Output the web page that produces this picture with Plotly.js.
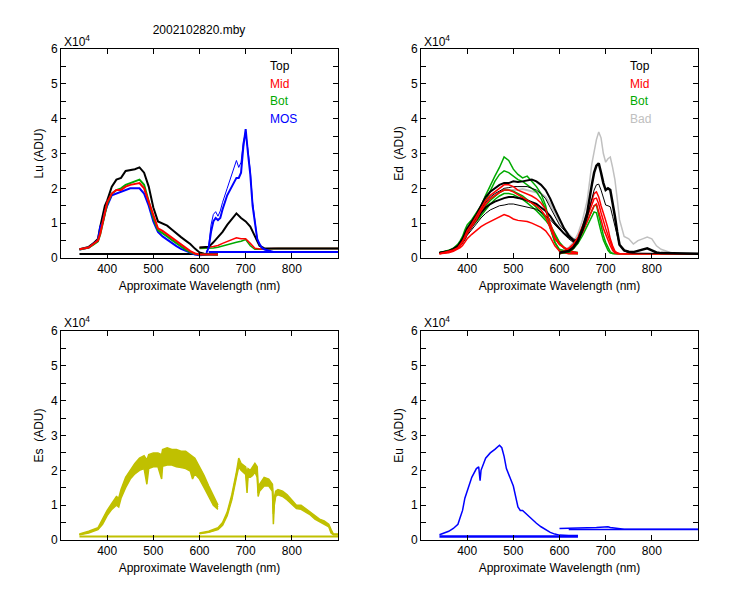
<!DOCTYPE html>
<html>
<head>
<meta charset="utf-8">
<script src="https://cdn.plot.ly/plotly-3.0.1.min.js"></script>
<style>html,body{margin:0;padding:0;background:#fff;}#chart{width:750px;height:600px;}</style>
</head>
<body>
<div id="chart"></div>
<script>
// ---------- DATA (values in units of 10^4 ADU) ----------
var WL_S = [340,350,360,370,380,385,390,395,400,410,420,430,440,450,460,470,480,490,500,510,520,530,540,550,560,570,580,590,600,610,620,630,640];
var WL_L = [600,610,620,630,640,650,660,670,680,690,700,710,720,730,740,750,760,770,780,790,800,820,840,860,880,900];

// Lu panel
var lu_top_s = [0.25,0.28,0.32,0.42,0.55,0.9,1.25,1.5,1.65,2.05,2.25,2.3,2.5,2.52,2.55,2.6,2.45,2.05,1.45,1.05,1.0,0.93,0.82,0.7,0.6,0.5,0.4,0.27,0.16,0.12,0.11,0.1,0.1];
var lu_mid_s = [0.25,0.27,0.3,0.4,0.5,0.7,1.0,1.35,1.6,1.85,1.95,1.95,2.05,2.1,2.12,2.15,2.0,1.6,1.2,0.85,0.78,0.68,0.58,0.48,0.38,0.28,0.2,0.13,0.1,0.1,0.1,0.1,0.1];
var lu_bot_s = [0.24,0.27,0.3,0.38,0.48,0.68,0.95,1.3,1.55,1.85,1.95,2.0,2.1,2.15,2.2,2.25,2.1,1.65,1.15,0.8,0.72,0.62,0.52,0.42,0.32,0.24,0.17,0.12,0.1,0.1,0.1,0.1,0.1];
var lu_mos_s = [0.24,0.26,0.3,0.4,0.5,0.9,1.0,1.3,1.5,1.8,1.85,1.9,1.95,2.0,2.0,2.0,1.85,1.5,1.05,0.75,0.62,0.52,0.43,0.34,0.26,0.2,0.15,0.1,0.08,0.1,0.1,0.1,0.1];
var lu_top_l = [0.3,0.3,0.32,0.45,0.6,0.75,0.95,1.12,1.28,1.15,1.05,0.9,0.6,0.35,0.28,0.27,0.27,0.27,0.27,0.27,0.27,0.27,0.27,0.27,0.27,0.27];
var lu_mid_l = [0.3,0.3,0.31,0.33,0.36,0.42,0.48,0.52,0.58,0.55,0.55,0.42,0.28,0.26,0.27,0.27,0.27,0.27,0.27,0.27,0.27,0.27,0.27,0.27,0.27,0.27];
var lu_bot_l = [0.27,0.27,0.28,0.29,0.31,0.35,0.38,0.42,0.45,0.48,0.53,0.35,0.25,0.25,0.26,0.27,0.27,0.27,0.27,0.27,0.27,0.27,0.27,0.27,0.27,0.27];
var MOS_WL   = [615,620,625,630,635,640,645,650,660,670,680,685,690,695,700,705,710,715,720,725,730,735,740,750,760,780];
var lu_mos_a = [0.15,0.3,0.75,1.05,1.15,1.09,1.15,1.4,1.8,2.05,2.3,2.3,2.45,3.2,3.7,3.0,2.4,1.5,1.0,0.55,0.4,0.3,0.25,0.2,0.17,0.17];
var lu_mos_b = [0.15,0.35,0.95,1.25,1.33,1.2,1.35,1.6,2.0,2.4,2.8,2.6,2.75,3.35,3.6,3.1,2.5,1.6,1.05,0.55,0.38,0.28,0.24,0.2,0.17,0.17];
var LU_DARK_X = [340,640];
var lu_dark   = [0.115,0.115];
var LU_MOSDARK_X = [620,900];
var lu_mosdark   = [0.17,0.17];

// Ed panel
var ed_g1 = [0.15,0.18,0.22,0.28,0.4,0.5,0.62,0.8,0.95,1.1,1.3,1.5,1.8,2.1,2.35,2.6,2.9,2.8,2.55,2.4,2.3,2.35,2.2,2.05,1.85,1.5,0.9,0.45,0.2,0.15,0.13,0.12,0.12];
var ed_g2 = [0.15,0.17,0.2,0.26,0.36,0.45,0.55,0.7,0.85,1.0,1.2,1.4,1.65,1.95,2.2,2.4,2.5,2.45,2.35,2.25,2.2,2.1,2.0,1.9,1.7,1.4,0.85,0.45,0.25,0.2,0.16,0.14,0.13];
var ed_g3 = [0.15,0.17,0.2,0.25,0.33,0.4,0.5,0.62,0.75,0.95,1.12,1.3,1.5,1.65,1.78,1.88,1.95,1.95,1.92,1.85,1.78,1.68,1.58,1.45,1.3,1.15,0.95,0.7,0.45,0.3,0.22,0.18,0.16];
var ed_g4 = [0.15,0.17,0.2,0.25,0.32,0.38,0.47,0.58,0.7,0.9,1.05,1.22,1.4,1.55,1.68,1.78,1.85,1.85,1.82,1.75,1.68,1.58,1.48,1.36,1.22,1.08,0.9,0.65,0.42,0.28,0.2,0.16,0.14];
var ed_r1 = [0.12,0.15,0.18,0.23,0.3,0.38,0.48,0.62,0.78,0.98,1.2,1.45,1.65,1.8,1.9,2.0,2.1,2.1,2.05,1.95,1.9,1.85,1.78,1.7,1.58,1.4,1.0,0.6,0.4,0.3,0.22,0.18,0.15];
var ed_r2 = [0.12,0.14,0.17,0.22,0.28,0.35,0.44,0.56,0.7,0.9,1.1,1.35,1.55,1.7,1.8,1.88,1.95,1.95,1.9,1.82,1.75,1.68,1.6,1.5,1.38,1.2,0.85,0.55,0.38,0.28,0.2,0.16,0.14];
var ed_r3 = [0.12,0.13,0.15,0.19,0.25,0.3,0.36,0.45,0.55,0.68,0.8,0.9,0.98,1.05,1.12,1.18,1.25,1.2,1.12,1.08,1.06,1.05,1.0,0.95,0.88,0.78,0.6,0.35,0.2,0.15,0.12,0.12,0.12];
var ed_k1 = [0.15,0.17,0.2,0.26,0.35,0.45,0.55,0.7,0.85,1.05,1.25,1.5,1.75,1.9,2.0,2.1,2.15,2.15,2.2,2.18,2.2,2.22,2.25,2.2,2.1,1.95,1.7,1.4,1.1,0.85,0.65,0.5,0.4];
var ed_k2 = [0.14,0.16,0.19,0.24,0.32,0.4,0.5,0.62,0.78,0.98,1.18,1.4,1.6,1.75,1.85,1.92,2.0,2.02,2.05,2.05,2.05,2.05,2.0,1.95,1.85,1.7,1.45,1.2,0.95,0.8,0.65,0.55,0.5];
var ed_k3 = [0.14,0.16,0.18,0.23,0.3,0.38,0.46,0.58,0.72,0.9,1.1,1.3,1.45,1.55,1.62,1.68,1.72,1.75,1.75,1.72,1.7,1.65,1.6,1.55,1.45,1.35,1.2,1.0,0.85,0.7,0.6,0.5,0.45];
var ed_k4 = [0.14,0.15,0.17,0.22,0.28,0.35,0.42,0.52,0.65,0.8,0.98,1.15,1.28,1.38,1.45,1.5,1.52,1.55,1.55,1.52,1.5,1.48,1.45,1.4,1.32,1.22,1.1,0.95,0.8,0.68,0.55,0.45,0.4];
var ed_bad_s = [0.15,0.17,0.2,0.25,0.33,0.4,0.5,0.62,0.76,0.95,1.15,1.4,1.6,1.72,1.82,1.9,1.95,1.95,1.95,1.95,1.98,1.95,1.92,1.9,1.85,1.75,1.55,1.3,1.05,0.85,0.68,0.55,0.45];

var ED_WL_L = [600,610,620,630,640,650,660,670,675,680,685,690,695,700,705,710,715,720,725,730,740,750,760,770,780,790,800,810,820,840,860,880,900];
var ed_bad_l = [0.2,0.25,0.3,0.45,0.7,1.1,1.65,2.7,3.1,3.4,3.62,3.45,3.0,2.75,2.85,2.9,2.6,2.25,1.7,1.1,0.62,0.55,0.4,0.5,0.55,0.6,0.55,0.35,0.25,0.16,0.14,0.13,0.13];
var ed_k1_l  = [0.15,0.17,0.2,0.3,0.5,0.85,1.3,2.1,2.45,2.65,2.72,2.45,2.15,1.95,2.0,1.95,1.6,1.2,0.75,0.38,0.22,0.18,0.17,0.2,0.25,0.28,0.22,0.16,0.14,0.13,0.12,0.12,0.12];
var ed_k2_l  = [0.15,0.17,0.2,0.28,0.45,0.75,1.15,1.7,1.95,2.1,2.12,1.95,1.7,1.52,1.5,1.47,1.2,0.9,0.6,0.37,0.2,0.15,0.14,0.14,0.14,0.14,0.13,0.13,0.12,0.12,0.12,0.12,0.12];
var ed_r1_l  = [0.15,0.2,0.28,0.4,0.6,0.9,1.25,1.65,1.85,1.9,1.75,1.5,1.25,1.08,0.85,0.55,0.35,0.2,0.15,0.13,0.12,0.12,0.12,0.12,0.12,0.12,0.12,0.12,0.12,0.12,0.12,0.12,0.12];
var ed_r2_l  = [0.13,0.18,0.25,0.36,0.55,0.82,1.15,1.5,1.7,1.72,1.55,1.3,1.05,0.85,0.65,0.45,0.28,0.17,0.13,0.12,0.12,0.12,0.12,0.12,0.12,0.12,0.12,0.12,0.12,0.12,0.12,0.12,0.12];
var ed_r3_l  = [0.12,0.16,0.22,0.32,0.5,0.75,1.05,1.35,1.5,1.55,1.35,1.1,0.85,0.68,0.5,0.35,0.22,0.14,0.12,0.12,0.12,0.12,0.12,0.12,0.12,0.12,0.12,0.12,0.12,0.12,0.12,0.12,0.12];
var ed_g1_l  = [0.12,0.15,0.2,0.3,0.5,0.75,1.05,1.35,1.5,1.52,1.2,0.9,0.65,0.45,0.3,0.18,0.13,0.12,0.12,0.12,0.12,0.12,0.12,0.12,0.12,0.12,0.12,0.12,0.12,0.12,0.12,0.12,0.12];
var ed_g2_l  = [0.12,0.14,0.18,0.26,0.42,0.65,0.92,1.2,1.32,1.3,1.0,0.75,0.52,0.35,0.22,0.14,0.12,0.12,0.12,0.12,0.12,0.12,0.12,0.12,0.12,0.12,0.12,0.12,0.12,0.12,0.12,0.12,0.12];

// Es panel
var ES_WL_S = [340,350,360,370,380,390,395,400,410,420,425,430,440,450,460,470,480,486,490,500,510,518,520,530,540,550,560,570,580,585,590,600,610,620,630,640];
var es_hi_s  = [0.17,0.2,0.25,0.3,0.35,0.6,0.75,0.85,1.05,1.25,1.2,1.45,1.8,2.0,2.2,2.35,2.42,2.3,2.45,2.5,2.5,2.45,2.6,2.65,2.6,2.6,2.55,2.55,2.45,2.4,2.35,2.1,1.85,1.55,1.25,1.0];
var es_mid_s = [0.16,0.18,0.22,0.27,0.32,0.52,0.68,0.78,0.95,1.12,1.05,1.32,1.65,1.88,2.05,2.18,2.25,2.0,2.25,2.3,2.3,2.1,2.35,2.4,2.38,2.35,2.32,2.3,2.22,2.1,2.12,1.92,1.68,1.4,1.12,0.94];
var es_lo_s  = [0.15,0.17,0.2,0.25,0.3,0.45,0.6,0.7,0.88,1.0,0.95,1.2,1.5,1.75,1.9,2.0,2.05,1.6,2.05,2.1,2.1,1.75,2.12,2.15,2.15,2.1,2.08,2.05,1.98,1.75,1.9,1.75,1.5,1.25,1.0,0.88];
var ES_WL_L = [600,620,640,650,660,670,680,685,690,700,703,705,710,715,720,725,727,730,740,750,758,760,762,765,770,780,790,800,810,820,830,840,850,860,870,880,885,890,900];
var es_hi_l  = [0.2,0.25,0.35,0.5,0.8,1.3,1.95,2.35,2.2,2.1,1.9,2.05,2.0,2.1,2.2,2.1,1.5,1.6,1.8,1.75,1.6,1.1,1.2,1.4,1.45,1.4,1.3,1.15,1.0,1.0,0.9,0.82,0.7,0.6,0.55,0.45,0.3,0.17,0.17];
var es_mid_l = [0.19,0.23,0.32,0.46,0.75,1.22,1.88,2.22,2.1,1.98,1.6,1.92,1.9,1.98,2.08,1.95,1.35,1.5,1.68,1.65,1.5,0.75,1.1,1.32,1.38,1.32,1.22,1.08,0.95,0.94,0.85,0.77,0.65,0.56,0.5,0.42,0.25,0.16,0.16];
var es_lo_l  = [0.18,0.22,0.3,0.42,0.7,1.15,1.8,2.1,2.0,1.88,1.35,1.8,1.8,1.85,1.95,1.8,1.25,1.4,1.55,1.55,1.4,0.45,1.0,1.25,1.3,1.25,1.15,1.02,0.9,0.88,0.8,0.72,0.6,0.52,0.45,0.38,0.2,0.15,0.15];
var ES_BASE_X = [340,900];
var es_base   = [0.1,0.1];

// Eu panel
var EU_WL_S = [340,350,360,370,380,385,390,395,400,410,420,425,428,430,440,450,460,470,475,480,485,490,500,510,515,520,530,540,550,560,570,580,590,600,620,640];
var eu_s    = [0.15,0.2,0.25,0.33,0.45,0.65,0.85,1.2,1.4,1.8,2.05,2.1,1.7,2.0,2.35,2.5,2.6,2.72,2.65,2.4,2.05,1.9,1.55,0.95,0.85,0.85,0.72,0.6,0.48,0.38,0.3,0.22,0.17,0.14,0.13,0.13];
var EU_WL_L = [600,620,640,650,660,680,690,700,705,710,720,730,740,900];
var eu_l    = [0.33,0.33,0.34,0.35,0.35,0.36,0.37,0.39,0.38,0.36,0.34,0.32,0.31,0.31];
var EU_L2_X = [620,900];
var eu_l2   = [0.3,0.3];
var EU_BASE_X = [340,640];
var eu_base   = [0.1,0.1];

var Y_TICKS = [0,1,2,3,4,5,6];
var X_TICKS = [400,500,600,700,800];
var LEGEND_LU = ['Top','Mid','Bot','MOS'];
var LEGEND_ED = ['Top','Mid','Bot','Bad'];

// ---------- STYLE ----------
var C = {k:'#000000', r:'#ff0000', g:'#00aa00', b:'#0000ff', gray:'#c0c0c0', y:'#c0c000'};
var FONT = {family:'Liberation Sans, Arial, sans-serif', size:12, color:'#000'};

function tr(x, y, color, width, ax, fill) {
  var t = {x:x, y:y, type:'scatter', mode:'lines', line:{color:color, width:width}, xaxis:'x'+ax, yaxis:'y'+ax, hoverinfo:'skip', showlegend:false};
  if (fill) { t.fill = 'tonexty'; t.fillcolor = color; }
  return t;
}

var data = [];
// Panel 1 (Lu)
data.push(tr(LU_DARK_X, lu_dark, C.k, 2, ''));
data.push(tr(LU_MOSDARK_X, lu_mosdark, C.b, 2, ''));
data.push(tr(WL_L, lu_bot_l, C.g, 1.5, ''));
data.push(tr(WL_L, lu_mid_l, C.r, 1.5, ''));
data.push(tr(WL_L, lu_top_l, C.k, 2, ''));
data.push(tr(WL_S, lu_top_s, C.k, 2, ''));
data.push(tr(WL_S, lu_mos_s, C.b, 2, ''));
data.push(tr(WL_S, lu_bot_s, C.g, 2, ''));
data.push(tr(WL_S, lu_mid_s, C.r, 2, ''));
data.push(tr(MOS_WL, lu_mos_a, C.b, 2, ''));
data.push(tr(MOS_WL, lu_mos_b, C.b, 1, ''));
// Panel 2 (Ed)
data.push(tr(WL_S, ed_bad_s, C.gray, 2, '2'));
data.push(tr(ED_WL_L, ed_bad_l, C.gray, 1.5, '2'));
[ed_g1, ed_g2, ed_g3, ed_g4].forEach(function(v){ data.push(tr(WL_S, v, C.g, 1.5, '2')); });
[ed_k1, ed_k3].forEach(function(v){ data.push(tr(WL_S, v, C.k, 2, '2')); });
[ed_k2, ed_k4].forEach(function(v){ data.push(tr(WL_S, v, C.k, 1, '2')); });
[ed_r1, ed_r2, ed_r3].forEach(function(v){ data.push(tr(WL_S, v, C.r, 1.5, '2')); });
[ed_g1_l, ed_g2_l].forEach(function(v){ data.push(tr(ED_WL_L, v, C.g, 1.5, '2')); });
[ed_r1_l, ed_r2_l, ed_r3_l].forEach(function(v){ data.push(tr(ED_WL_L, v, C.r, 1.5, '2')); });
data.push(tr(ED_WL_L, ed_k2_l, C.k, 1, '2'));
data.push(tr(ED_WL_L, ed_k1_l, C.k, 2.5, '2'));
// Panel 3 (Es): dense band of spectra drawn as filled envelope
data.push(tr(ES_BASE_X, es_base, C.y, 2, '3'));
data.push(tr(ES_WL_S, es_lo_s, C.y, 1.5, '3'));
data.push(tr(ES_WL_S, es_hi_s, C.y, 1.5, '3', true));
data.push(tr(ES_WL_S, es_mid_s, C.y, 1.5, '3'));
data.push(tr(ES_WL_L, es_lo_l, C.y, 1.5, '3'));
data.push(tr(ES_WL_L, es_hi_l, C.y, 1.5, '3', true));
data.push(tr(ES_WL_L, es_mid_l, C.y, 1.5, '3'));
// Panel 4 (Eu)
data.push(tr(EU_BASE_X, eu_base, C.b, 2.5, '4'));
data.push(tr(EU_WL_S, eu_s, C.b, 1.5, '4'));
data.push(tr(EU_WL_L, eu_l, C.b, 1.5, '4'));
data.push(tr(EU_L2_X, eu_l2, C.b, 1.5, '4'));

function xaxis(dom, anchor) {
  return {domain:dom, anchor:anchor, range:[300,900], tickvals:X_TICKS, ticktext:X_TICKS.map(String),
    ticks:'inside', ticklen:5, tickcolor:'#000', showline:true, mirror:'ticks', linecolor:'#000', linewidth:1,
    showgrid:false, zeroline:false, tickfont:FONT, fixedrange:true,
    title:{text:'Approximate Wavelength (nm)', font:FONT, standoff:6}};
}
function yaxis(dom, anchor, label) {
  return {domain:dom, anchor:anchor, range:[0,6], tickvals:Y_TICKS, ticktext:Y_TICKS.map(String),
    ticks:'inside', ticklen:5, tickcolor:'#000', showline:true, mirror:'ticks', linecolor:'#000', linewidth:1,
    minor:{dtick:0.5, ticks:'inside', ticklen:5, tickcolor:'#000'},
    showgrid:false, zeroline:false, tickfont:FONT, fixedrange:true,
    title:{text:label, font:FONT, standoff:4}};
}
var XL = [61/750, 338/750], XR = [421/750, 698/750];
var YT = [(600-258)/600, (600-49)/600], YB = [(600-540)/600, (600-331)/600];

var ann = [];
function x10(px, py) {
  ann.push({xref:'paper', yref:'paper', x:px/750, y:1-py/600, xanchor:'left', yanchor:'middle',
    text:'X10<sup>4</sup>', showarrow:false, font:FONT});
}
x10(62, 41); x10(422, 41); x10(62, 322); x10(422, 322);
var legCol = [C.k, C.r, C.g, C.b];
LEGEND_LU.forEach(function(t, i){
  ann.push({xref:'x', yref:'y', x:748, y:5.5-0.5*i, xanchor:'left', yanchor:'middle', text:t, showarrow:false, font:{family:FONT.family, size:12, color:legCol[i]}});
});
var legCol2 = [C.k, C.r, C.g, C.gray];
LEGEND_ED.forEach(function(t, i){
  ann.push({xref:'x2', yref:'y2', x:748, y:5.5-0.5*i, xanchor:'left', yanchor:'middle', text:t, showarrow:false, font:{family:FONT.family, size:12, color:legCol2[i]}});
});

var layout = {
  width:750, height:600, margin:{l:0, r:0, t:0, b:0}, paper_bgcolor:'#fff', plot_bgcolor:'#fff',
  font:FONT, showlegend:false,
  title:{text:'2002102820.mby', font:FONT, x:199/750, xanchor:'center', y:1-30/600, yanchor:'middle', xref:'container', yref:'container'},
  xaxis:xaxis(XL, 'y'), yaxis:yaxis(YT, 'x', 'Lu (ADU)'),
  xaxis2:xaxis(XR, 'y2'), yaxis2:yaxis(YT, 'x2', 'Ed\u00a0 (ADU)'),
  xaxis3:xaxis(XL, 'y3'), yaxis3:yaxis(YB, 'x3', 'Es\u00a0 (ADU)'),
  xaxis4:xaxis(XR, 'y4'), yaxis4:yaxis(YB, 'x4', 'Eu\u00a0 (ADU)'),
  annotations:ann
};
Plotly.newPlot('chart', data, layout, {displayModeBar:false, staticPlot:true});
</script>
</body>
</html>
